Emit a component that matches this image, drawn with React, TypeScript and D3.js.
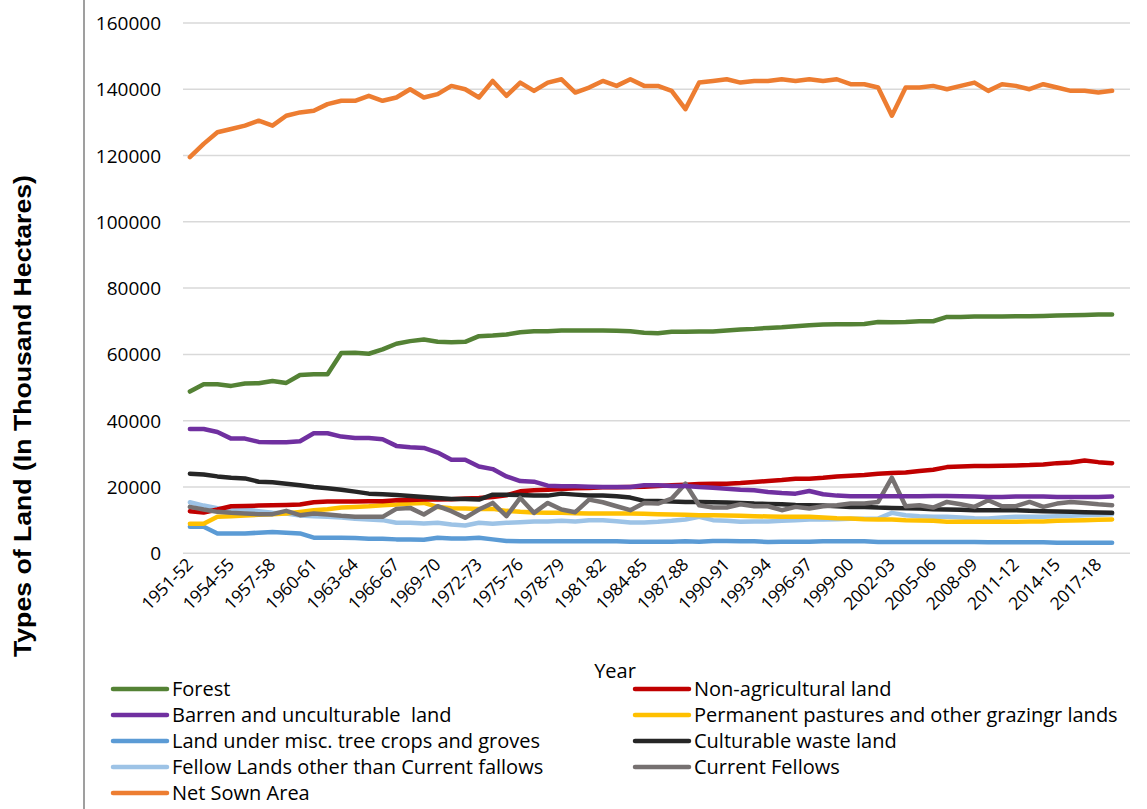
import React from "react";
import * as d3 from "d3";

const years: string[] = Array.from({ length: 68 }, (_, i) => {
  const y = 1951 + i;
  return `${y}-${String((y + 1) % 100).padStart(2, "0")}`;
});

const netSown = [119.5,123.5,127,128,129,130.5,129,132,133,133.5,135.5,136.5,136.5,138,136.5,137.5,140,137.5,138.5,141,140,137.5,142.5,138,142,139.5,142,143,139,140.5,142.5,141,143,141,141,139.5,134,142,142.5,143,142,142.5,142.5,143,142.5,143,142.5,143,141.5,141.5,140.5,132,140.5,140.5,141,140,141,142,139.5,141.5,141,140,141.5,140.5,139.5,139.5,139,139.5];
const forest = [48.8,51,51,50.5,51.2,51.3,52,51.4,53.8,54,54,60.4,60.5,60.2,61.5,63.2,64,64.5,63.8,63.7,63.8,65.5,65.7,66,66.7,67,67,67.2,67.2,67.2,67.2,67.1,67,66.5,66.4,66.8,66.8,66.9,66.9,67.2,67.5,67.7,68,68.2,68.5,68.8,69,69.1,69.1,69.2,69.8,69.7,69.8,70,70,71.3,71.3,71.4,71.4,71.4,71.5,71.5,71.6,71.7,71.8,71.9,72,72];
const barren = [37.5,37.5,36.6,34.6,34.6,33.6,33.5,33.5,33.8,36.2,36.2,35.2,34.8,34.8,34.4,32.4,32,31.8,30.4,28.2,28.2,26.2,25.4,23.2,21.8,21.6,20.4,20.2,20.2,20.1,20,20,20,20.5,20.5,20.3,20.3,20,19.8,19.5,19.2,19,18.5,18.2,18,18.8,17.8,17.4,17.2,17.2,17.2,17.2,17.2,17.2,17.3,17.3,17.2,17.1,17,17,17.1,17.1,17.1,17,17,17,17,17.1];
const nonAgri = [12.7,12.3,13.2,14.2,14.3,14.4,14.5,14.6,14.7,15.4,15.6,15.6,15.6,15.7,15.7,16,16.1,16.2,16.2,16.3,16.5,16.7,17,17.5,18.7,19,19.2,19.4,19.6,19.7,19.9,19.9,20,20.1,20.3,20.5,20.7,20.9,21,21,21.2,21.5,21.8,22.1,22.5,22.5,22.8,23.2,23.4,23.6,24,24.2,24.4,24.8,25.2,26,26.2,26.3,26.3,26.4,26.5,26.6,26.8,27.2,27.4,28,27.5,27.2];
const pastures = [8.9,8.9,11,11.2,11.4,11.6,11.8,12,12.5,13,13.3,13.8,14,14.2,14.5,14.7,15,15.2,14,13.6,13.5,13.4,13.4,12.8,12.5,12.3,12.2,12.2,12.1,12,12,12,12,11.9,11.8,11.7,11.6,11.5,11.5,11.4,11.3,11.2,11.1,11,11,11,10.8,10.6,10.5,10.3,10.2,10.2,10,9.9,9.8,9.5,9.5,9.5,9.5,9.5,9.5,9.6,9.6,9.8,9.9,10,10.1,10.2];
const treeCrops = [8,8,6,6,6,6.2,6.4,6.2,6,4.7,4.7,4.7,4.6,4.4,4.4,4.2,4.2,4.1,4.7,4.5,4.5,4.7,4.2,3.7,3.6,3.6,3.6,3.6,3.6,3.6,3.6,3.6,3.5,3.5,3.5,3.5,3.6,3.5,3.7,3.7,3.6,3.6,3.4,3.5,3.5,3.5,3.6,3.6,3.6,3.6,3.4,3.4,3.4,3.4,3.4,3.4,3.4,3.4,3.3,3.3,3.3,3.3,3.3,3.2,3.2,3.2,3.2,3.2];
const culturable = [24,23.8,23.2,22.8,22.6,21.6,21.4,21,20.5,20,19.6,19.2,18.6,18,17.8,17.6,17.3,17,16.7,16.4,16.4,16.2,17.7,17.7,17.6,17.4,17.4,18,17.7,17.4,17.4,17.2,16.8,15.8,15.8,15.6,15.5,15.5,15.4,15.3,15.2,15,14.9,14.8,14.6,14.5,14.4,14.2,14,14,13.8,13.7,13.6,13.5,13.3,13.2,13.1,13,13,13,13,12.8,12.7,12.6,12.5,12.4,12.3,12.2];
const fellowLands = [15.4,14.4,13.6,13.2,13.2,12.7,12.2,12,11.4,11.2,11,10.8,10.4,10.2,10,9.2,9.2,9,9.2,8.7,8.4,9.2,8.9,9.2,9.4,9.6,9.6,9.8,9.6,10,10,9.7,9.3,9.3,9.5,9.8,10.2,11,10,9.8,9.5,9.6,9.6,9.8,10,10.2,10.2,10.3,10.4,10.4,10.5,12.2,11.5,11.2,11,11,10.8,10.6,10.5,10.8,11,11,11,11.2,11.3,11.5,11.6,11.8];
const currentFellows = [14,13.2,12.5,12.2,12,11.8,11.8,12.8,11.5,12,11.7,11.3,11,11,11,13.4,13.7,11.7,14.2,12.7,10.7,13.2,15.2,11.2,16.7,12.2,15.2,13.2,12.4,16.2,15.4,14.2,13,15.2,15,16.5,21,14.5,13.8,13.8,14.8,14.2,14.2,13,14,13.5,14.2,14.5,15,15,15.5,22.8,14.2,14.5,13.8,15.5,14.8,14,16,14.2,14.2,15.5,14,15,15.5,15.2,14.8,14.5];

const yTicks = [0, 20000, 40000, 60000, 80000, 100000, 120000, 140000, 160000];

const series = [
  { name: "Forest", color: "#548235", data: forest },
  { name: "Non-agricultural land", color: "#C00000", data: nonAgri },
  { name: "Barren and unculturable  land", color: "#7030A0", data: barren },
  { name: "Permanent pastures and other grazingr lands", color: "#FFC000", data: pastures },
  { name: "Land under misc. tree crops and groves", color: "#5B9BD5", data: treeCrops },
  { name: "Culturable waste land", color: "#262626", data: culturable },
  { name: "Fellow Lands other than Current fallows", color: "#9DC3E6", data: fellowLands },
  { name: "Current Fellows", color: "#767171", data: currentFellows },
  { name: "Net Sown Area", color: "#ED7D31", data: netSown },
];

const drawOrder = [4, 6, 3, 1, 5, 7, 2, 0, 8];

export default function App() {
  const W = 1147, H = 809;
  const x = d3.scaleBand<string>().domain(years).range([183, 1119]);
  const y = d3.scaleLinear().domain([0, 160000]).range([553.3, 22.9]);
  const cx = (i: number) => (x(years[i]) as number) + x.bandwidth() / 2;
  const line = (d: number[]) =>
    d3.line<number>().x((_, i) => cx(i)).y((v) => y(v * 1000))(d) as string;
  const font = "'Open Sans', 'Noto Sans', sans-serif";
  return (
    <svg width={W} height={H} style={{ position: "absolute", left: 0, top: 0, fontFamily: font }}>
      <rect width={W} height={H} fill="#fff" />
      <line x1={84} x2={84} y1={0} y2={H} stroke="#7f7f7f" strokeWidth={1.5} />
      {yTicks.map((t) => (
        <g key={t}>
          <line x1={183} x2={1130} y1={y(t)} y2={y(t)} stroke="#d9d9d9" strokeWidth={1.5} />
          <text x={161} y={y(t) + 7} textAnchor="end" fontSize={19}>{t}</text>
        </g>
      ))}
      {years.map((yr, i) =>
        i % 3 === 0 ? (
          <text key={yr} transform={`translate(${cx(i) + 4},${566}) rotate(-45)`} textAnchor="end" fontSize={17.5} letterSpacing={-0.3}>
            {yr}
          </text>
        ) : null
      )}
      {drawOrder.map((k) => (
        <path key={k} d={line(series[k].data)} fill="none" stroke={series[k].color} strokeWidth={4.5} strokeLinejoin="round" strokeLinecap="round" />
      ))}
      <text x={615} y={678} textAnchor="middle" fontSize={20}>Year</text>
      <text transform={`translate(31,416) rotate(-90)`} textAnchor="middle" fontSize={23} fontWeight="bold"
        fontFamily="Arial, 'Liberation Sans', sans-serif" textLength={482} lengthAdjust="spacingAndGlyphs">
        Types of Land (In Thousand Hectares)
      </text>
      {series.map((s, i) => {
        const col = i % 2, row = Math.floor(i / 2);
        const lx = col === 0 ? 113 : 635;
        const ly = 689 + row * 26;
        return (
          <g key={s.name}>
            <line x1={lx} x2={lx + 54} y1={ly} y2={ly} stroke={s.color} strokeWidth={4.5} strokeLinecap="round" />
            <text x={lx + 59} y={ly + 7} fontSize={20} style={{ whiteSpace: "pre" }}>{s.name}</text>
          </g>
        );
      })}
    </svg>
  );
}
